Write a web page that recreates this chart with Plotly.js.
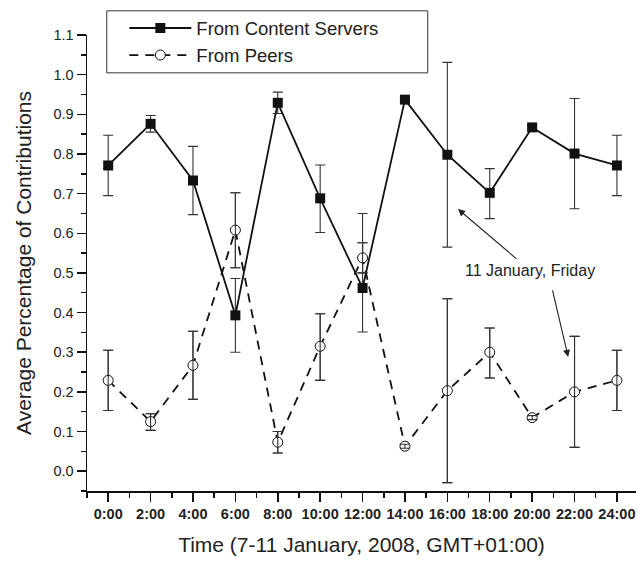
<!DOCTYPE html>
<html>
<head>
<meta charset="utf-8">
<script src="https://cdn.plot.ly/plotly-3.0.1.min.js"></script>
<style>html,body{margin:0;padding:0;background:#fff;}#chart{width:638px;height:562px;}</style>
</head>
<body>
<div id="chart"></div>
<script>
// Hours of day (0..24)
const hours = [0, 2, 4, 6, 8, 10, 12, 14, 16, 18, 20, 22, 24];
const tickLabels = ["0:00","2:00","4:00","6:00","8:00","10:00","12:00","14:00","16:00","18:00","20:00","22:00","24:00"];

// From Content Servers
const serverMean  = [0.771, 0.876, 0.733, 0.393, 0.929, 0.688, 0.462, 0.937, 0.798, 0.702, 0.867, 0.801, 0.771];
const serverUpper = [0.847, 0.897, 0.819, 0.486, 0.956, 0.772, 0.650, 0.942, 1.031, 0.763, 0.872, 0.940, 0.847];
const serverLower = [0.695, 0.855, 0.647, 0.300, 0.902, 0.602, 0.351, 0.932, 0.565, 0.637, 0.862, 0.662, 0.695];

// From Peers
const peerMean  = [0.229, 0.125, 0.267, 0.608, 0.073, 0.315, 0.538, 0.063, 0.203, 0.300, 0.135, 0.200, 0.229];
const peerUpper = [0.305, 0.145, 0.353, 0.702, 0.100, 0.397, 0.576, 0.068, 0.435, 0.361, 0.140, 0.340, 0.305];
const peerLower = [0.153, 0.103, 0.181, 0.513, 0.046, 0.229, 0.500, 0.058, -0.029, 0.235, 0.130, 0.060, 0.153];

const up = (u, m) => u.map((v, i) => +(v - m[i]).toFixed(4));
const dn = (l, m) => l.map((v, i) => +(m[i] - v).toFixed(4));

const font = "Liberation Sans, Arial, Helvetica, sans-serif";

const peerErr = {type: "data", symmetric: false, array: up(peerUpper, peerMean), arrayminus: dn(peerLower, peerMean),
                 color: "#333", thickness: 1.1, width: 5};

const traces = [
  {
    x: hours, y: serverMean, name: "From Content Servers", type: "scatter", mode: "lines+markers",
    legendgroup: "a",
    line: {color: "#111", width: 1.8},
    marker: {symbol: "square", size: 10, color: "#111", line: {color: "#111", width: 0}},
    error_y: {type: "data", symmetric: false, array: up(serverUpper, serverMean), arrayminus: dn(serverLower, serverMean),
              color: "#333", thickness: 1.1, width: 5}
  },
  {
    x: hours, y: peerMean, name: "From Peers", type: "scatter", mode: "lines+markers",
    legendgroup: "b",
    line: {color: "#111", width: 1.8, dash: "9px,7px"},
    marker: {symbol: "circle", size: 10, color: "#fff", line: {color: "#111", width: 1}},
    error_y: peerErr
  },
  {
    // error bars redrawn above the open circles, as in the original
    x: hours, y: peerMean, type: "scatter", mode: "markers", showlegend: false, hoverinfo: "skip",
    marker: {size: 1, color: "rgba(0,0,0,0)"},
    error_y: peerErr
  }
];

const layout = {
  width: 638, height: 562,
  margin: {l: 87, r: 2, t: 35, b: 71},
  paper_bgcolor: "#fff", plot_bgcolor: "#fff",
  font: {family: font, color: "#222"},
  showlegend: true,
  legend: {
    x: 0.068, y: 1.056, xanchor: "left", yanchor: "top",
    bgcolor: "rgba(0,0,0,0)", borderwidth: 0,
    font: {size: 18.5, family: font, color: "#222"},
    itemwidth: 62, tracegroupgap: 0
  },
  xaxis: {
    range: [-1, 24.9], showgrid: false, zeroline: false,
    showline: true, linecolor: "#111", linewidth: 1.5,
    tickmode: "array", tickvals: hours, ticktext: tickLabels,
    ticks: "outside", ticklen: 9, tickwidth: 1.5, tickcolor: "#111",
    tickfont: {size: 14.5, family: font, weight: "bold", color: "#222"},
    minor: {dtick: 1, tick0: 1, ticks: "outside", ticklen: 5, tickwidth: 1.5, tickcolor: "#111", showgrid: false},
    title: {text: "Time (7-11 January, 2008, GMT+01:00)", font: {size: 21, family: font, color: "#222"}, standoff: 16}
  },
  yaxis: {
    range: [-0.05, 1.1], showgrid: false, zeroline: false,
    showline: true, linecolor: "#111", linewidth: 1.5,
    tickmode: "linear", tick0: 0, dtick: 0.1, tickformat: ".1f",
    ticks: "outside", ticklen: 9, tickwidth: 1.5, tickcolor: "#111",
    tickfont: {size: 14.5, family: font, color: "#222"},
    minor: {dtick: 0.1, tick0: 0.05, ticks: "outside", ticklen: 5, tickwidth: 1.5, tickcolor: "#111", showgrid: false},
    title: {text: "Average Percentage of Contributions", font: {size: 21, family: font, color: "#222"}, standoff: 16}
  },
  shapes: [
    {type: "rect", xref: "paper", yref: "paper", x0: 0.036, x1: 0.6206, y0: 0.917, y1: 1.053,
     line: {color: "#333", width: 1}, fillcolor: "rgba(0,0,0,0)", layer: "above"}
  ],
  annotations: [
    {x: 19.9, y: 0.506, xref: "x", yref: "y", text: "11 January, Friday", showarrow: false,
     font: {size: 16, family: font, color: "#222"}},
    {x: 16.5, y: 0.661, xref: "x", yref: "y", text: "", showarrow: true, ax: 60, ay: 51,
     arrowhead: 2, arrowsize: 1.3, arrowwidth: 1.1, arrowcolor: "#222"},
    {x: 21.7, y: 0.288, xref: "x", yref: "y", text: "", showarrow: true, ax: -16, ay: -68,
     arrowhead: 2, arrowsize: 1.3, arrowwidth: 1.1, arrowcolor: "#222"}
  ]
};

Plotly.newPlot("chart", traces, layout, {displayModeBar: false, staticPlot: true});
</script>
</body>
</html>
